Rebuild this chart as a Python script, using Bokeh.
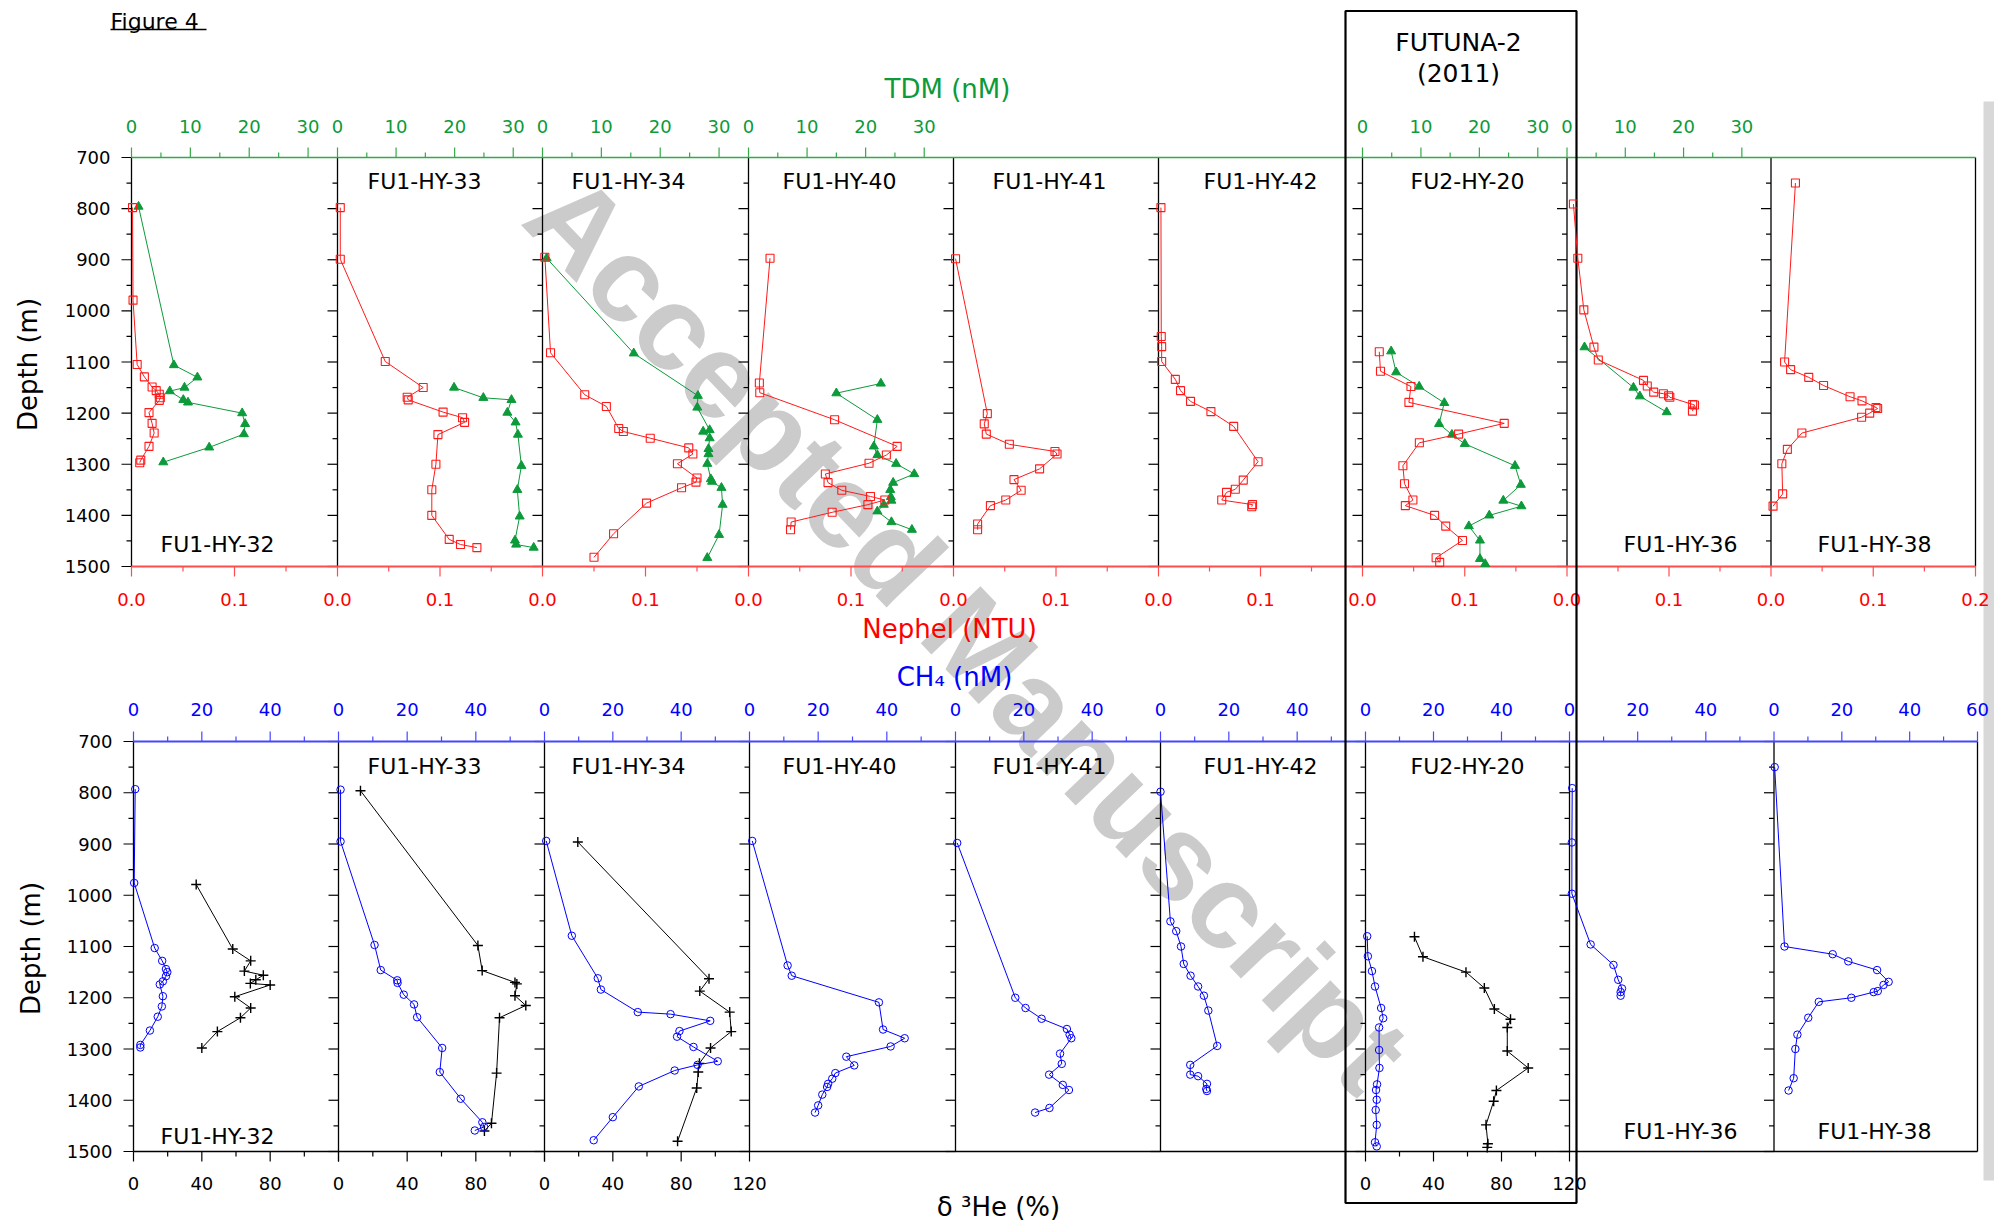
import math
from bokeh.plotting import figure
from bokeh.models import Range1d
from bokeh.embed import file_html
from bokeh.resources import INLINE
from bokeh.core.properties import value

# ---------------------------------------------------------------- data
stations = ["FU1-HY-32", "FU1-HY-33", "FU1-HY-34", "FU1-HY-40", "FU1-HY-41",
            "FU1-HY-42", "FU2-HY-20", "FU1-HY-36", "FU1-HY-38"]

depth_ticks = [700, 800, 900, 1000, 1100, 1200, 1300, 1400, 1500]
tdm_ticks = [0, 10, 20, 30]
neph_ticks = [0.0, 0.1]
ch4_ticks = [0, 20, 40]
he_ticks = [0, 40, 80]

# Nephelometry (NTU)
neph_32_depth = [798, 979, 1105, 1129, 1149, 1156, 1163, 1170, 1175, 1199, 1220, 1239, 1265, 1292, 1297]
neph_32 = [0.001, 0.0015, 0.0055, 0.0125, 0.020, 0.024, 0.027, 0.028, 0.027, 0.017, 0.020, 0.022, 0.017, 0.009, 0.008]
neph_33_depth = [798, 899, 1099, 1150, 1169, 1174, 1198, 1209, 1218, 1242, 1300, 1350, 1400, 1447, 1457, 1463]
neph_33 = [0.0027, 0.0027, 0.0466, 0.0836, 0.068, 0.069, 0.103, 0.122, 0.124, 0.098, 0.096, 0.092, 0.092, 0.109, 0.120, 0.136]
neph_34_depth = [895, 1082, 1164, 1187, 1230, 1236, 1249, 1268, 1280, 1299, 1327, 1335, 1346, 1376, 1436, 1482]
neph_34 = [0.0023, 0.0078, 0.041, 0.062, 0.074, 0.0785, 0.1046, 0.142, 0.146, 0.131, 0.150, 0.149, 0.135, 0.101, 0.069, 0.050]
neph_40_depth = [897, 1141, 1160, 1213, 1265, 1282, 1298, 1319, 1336, 1351, 1363, 1370, 1379, 1394, 1413, 1428]
neph_40 = [0.021, 0.0106, 0.011, 0.084, 0.145, 0.1345, 0.1176, 0.075, 0.0776, 0.091, 0.119, 0.133, 0.1165, 0.0816, 0.0416, 0.041]
neph_41_depth = [898, 1201, 1221, 1241, 1261, 1275, 1280, 1309, 1330, 1351, 1370, 1381, 1417, 1428]
neph_41 = [0.002, 0.033, 0.030, 0.032, 0.0545, 0.099, 0.101, 0.084, 0.059, 0.066, 0.051, 0.036, 0.0235, 0.0235]
neph_42_depth = [798, 1050, 1070, 1099, 1134, 1156, 1177, 1197, 1226, 1295, 1331, 1349, 1355, 1370, 1379, 1383]
neph_42 = [0.0024, 0.0027, 0.0031, 0.0031, 0.0165, 0.0216, 0.0314, 0.0514, 0.0737, 0.0976, 0.0831, 0.0753, 0.0667, 0.062, 0.0922, 0.0914]
neph_20_depth = [1080, 1118, 1148, 1179, 1220, 1241, 1258, 1303, 1338, 1370, 1381, 1400, 1421, 1449, 1483, 1492]
neph_20 = [0.0164, 0.0176, 0.0474, 0.0454, 0.1386, 0.094, 0.0556, 0.0395, 0.0411, 0.0493, 0.0419, 0.0705, 0.0814, 0.0978, 0.072, 0.0755]
neph_36_depth = [791, 897, 998, 1071, 1096, 1136, 1147, 1159, 1162, 1166, 1169, 1183, 1184, 1196]
neph_36 = [0.0063, 0.0106, 0.0165, 0.0264, 0.0307, 0.075, 0.0787, 0.085, 0.0945, 0.0996, 0.1008, 0.1232, 0.125, 0.123]
neph_38_depth = [750, 1100, 1115, 1130, 1146, 1168, 1176, 1189, 1191, 1200, 1208, 1239, 1271, 1299, 1358, 1382]
neph_38 = [0.0239, 0.0133, 0.0192, 0.0369, 0.0514, 0.0773, 0.089, 0.1027, 0.1043, 0.0965, 0.0886, 0.0302, 0.016, 0.0106, 0.0114, 0.002]

# TDM (nM)
tdm_32_depth = [796, 1106, 1130, 1150, 1157, 1174, 1179, 1200, 1221, 1241, 1267, 1296]
tdm_32 = [1.2, 7.2, 11.2, 9.0, 6.5, 8.8, 9.6, 18.8, 19.3, 19.1, 13.2, 5.4]
tdm_33_depth = [1150, 1170, 1174, 1199, 1218, 1242, 1303, 1350, 1402, 1449, 1457, 1463]
tdm_33 = [19.9, 24.9, 29.7, 29.0, 30.4, 30.8, 31.4, 30.7, 31.1, 30.3, 30.5, 33.5]
tdm_34_depth = [897, 1083, 1166, 1189, 1233, 1236, 1249, 1270, 1280, 1299, 1329, 1334, 1346, 1379, 1438, 1483]
tdm_34 = [0.7, 15.5, 26.4, 26.3, 28.4, 27.3, 28.4, 28.2, 28.2, 28.0, 28.6, 28.8, 30.4, 30.6, 30.0, 28.0]
tdm_40_depth = [1142, 1161, 1213, 1265, 1282, 1299, 1319, 1336, 1350, 1364, 1371, 1379, 1392, 1413, 1428]
tdm_40 = [22.6, 15.0, 22.0, 21.4, 22.0, 25.2, 28.3, 24.7, 24.2, 24.3, 24.4, 23.1, 22.0, 24.4, 27.9]
tdm_20_depth = [1079, 1120, 1148, 1180, 1221, 1242, 1260, 1303, 1340, 1371, 1382, 1400, 1421, 1449, 1485, 1495]
tdm_20 = [4.9, 5.75, 9.7, 14.0, 13.1, 15.3, 17.5, 26.1, 27.1, 24.1, 27.2, 21.7, 18.2, 20.1, 20.1, 21.0]
tdm_36_depth = [1071, 1150, 1167, 1198]
tdm_36 = [3.0, 11.4, 12.5, 17.1]

# CH4 (nM)
ch4_32_depth = [793, 976, 1103, 1128, 1144, 1150, 1158, 1168, 1174, 1197, 1217, 1237, 1264, 1292, 1297]
ch4_32 = [0.5, 0.2, 6.2, 8.4, 9.5, 9.9, 9.5, 8.6, 7.7, 8.6, 8.3, 7.1, 4.8, 2.0, 2.0]
ch4_33_depth = [794, 895, 1097, 1146, 1166, 1171, 1194, 1213, 1238, 1298, 1345, 1397, 1443, 1452, 1459]
ch4_33 = [0.6, 0.6, 10.5, 12.3, 17.1, 17.2, 19.0, 22.0, 22.9, 30.2, 29.5, 35.6, 41.9, 42.4, 39.7]
ch4_34_depth = [894, 1079, 1162, 1184, 1228, 1232, 1245, 1265, 1276, 1296, 1324, 1331, 1342, 1373, 1433, 1478]
ch4_34 = [0.5, 8.0, 15.6, 16.5, 27.3, 36.9, 48.5, 39.5, 38.8, 43.6, 50.7, 44.8, 38.1, 27.6, 20.0, 14.4]
ch4_40_depth = [894, 1137, 1157, 1209, 1262, 1279, 1295, 1315, 1332, 1347, 1358, 1368, 1374, 1389, 1410, 1424]
ch4_40 = [0.8, 11.1, 12.3, 37.7, 38.9, 45.2, 41.1, 28.2, 30.5, 25.0, 24.1, 22.9, 22.6, 21.2, 20.0, 19.1]
ch4_41_depth = [898, 1200, 1220, 1241, 1261, 1272, 1279, 1309, 1329, 1350, 1370, 1380, 1415, 1424]
ch4_41 = [0.5, 17.5, 20.5, 25.2, 32.6, 33.4, 33.9, 30.6, 31.1, 27.4, 31.4, 33.2, 27.5, 23.3]
ch4_42_depth = [798, 1051, 1070, 1100, 1134, 1157, 1178, 1196, 1225, 1294, 1331, 1350, 1353, 1368, 1378, 1382]
ch4_42 = [0.0, 2.9, 4.6, 6.0, 6.8, 8.8, 11.0, 12.7, 14.0, 16.6, 8.7, 8.7, 11.0, 13.6, 13.4, 13.6]
ch4_20_depth = [1080, 1119, 1148, 1178, 1220, 1240, 1258, 1302, 1337, 1369, 1380, 1399, 1419, 1448, 1482, 1490]
ch4_20 = [0.5, 0.7, 1.9, 2.8, 4.6, 5.2, 4.0, 4.0, 4.1, 3.4, 3.1, 3.3, 3.0, 3.3, 2.8, 3.3]
ch4_36_depth = [791, 897, 997, 1096, 1136, 1165, 1182, 1189, 1196]
ch4_36 = [0.8, 0.7, 0.7, 6.2, 12.9, 14.3, 15.4, 15.0, 15.0]
ch4_38_depth = [750, 1100, 1115, 1129, 1146, 1169, 1175, 1187, 1189, 1200, 1208, 1239, 1272, 1300, 1357, 1381]
ch4_38 = [0.2, 3.1, 17.3, 21.9, 30.4, 33.8, 32.3, 30.6, 29.4, 22.8, 13.2, 10.1, 6.9, 6.3, 5.8, 4.3]

# delta 3He (%)
he_32_depth = [979, 1105, 1128, 1148, 1156, 1165, 1172, 1175, 1198, 1220, 1239, 1266, 1298]
he_32 = [36.7, 58.1, 68.6, 64.9, 76.0, 71.6, 68.4, 80.0, 59.3, 68.6, 62.6, 49.1, 40.0]
he_33_depth = [796, 1098, 1147, 1170, 1173, 1196, 1215, 1239, 1347, 1445, 1460]
he_33 = [12.8, 81.2, 83.7, 102.8, 103.9, 102.8, 109.1, 93.8, 92.1, 89.1, 85.0]
he_34_depth = [896, 1163, 1187, 1228, 1266, 1298, 1328, 1345, 1376, 1480]
he_34 = [19.5, 96.3, 90.9, 108.4, 109.3, 97.2, 90.7, 90.0, 89.1, 77.9]
he_20_depth = [1081, 1120, 1150, 1181, 1222, 1242, 1258, 1304, 1337, 1381, 1402, 1448, 1485, 1492]
he_20 = [28.8, 33.8, 59.1, 69.9, 75.8, 85.3, 83.4, 83.4, 95.7, 77.0, 75.4, 70.9, 72.0, 71.6]

# station index -> (depths, values)
neph = {0: (neph_32_depth, neph_32), 1: (neph_33_depth, neph_33), 2: (neph_34_depth, neph_34),
        3: (neph_40_depth, neph_40), 4: (neph_41_depth, neph_41), 5: (neph_42_depth, neph_42),
        6: (neph_20_depth, neph_20), 7: (neph_36_depth, neph_36), 8: (neph_38_depth, neph_38)}
tdm = {0: (tdm_32_depth, tdm_32), 1: (tdm_33_depth, tdm_33), 2: (tdm_34_depth, tdm_34),
       3: (tdm_40_depth, tdm_40), 6: (tdm_20_depth, tdm_20), 7: (tdm_36_depth, tdm_36)}
ch4 = {0: (ch4_32_depth, ch4_32), 1: (ch4_33_depth, ch4_33), 2: (ch4_34_depth, ch4_34),
       3: (ch4_40_depth, ch4_40), 4: (ch4_41_depth, ch4_41), 5: (ch4_42_depth, ch4_42),
       6: (ch4_20_depth, ch4_20), 7: (ch4_36_depth, ch4_36), 8: (ch4_38_depth, ch4_38)}
he = {0: (he_32_depth, he_32), 1: (he_33_depth, he_33), 2: (he_34_depth, he_34), 6: (he_20_depth, he_20)}

# ---------------------------------------------------------------- layout / style
FONT = "DejaVu Sans"
W_PX, H_PX = 1994, 1225
RED = "#ff1a1a"
GREEN = "#0c9a3a"
BLUE = "#0000ff"
BLACK = "#000000"

TOP = dict(y700=157, y1500=566, lefts=[131, 337, 542, 748, 953, 1158, 1362, 1566.5, 1770.5], right=1975)
BOT = dict(y700=741, y1500=1151, lefts=[133, 338, 544, 749, 955, 1160, 1365, 1569, 1773.5], right=1977)
label_x = [217, 424, 628, 839, 1049, 1260, 1467, 1680, 1874]


def dep_range(row):
    s = 800.0 / (row["y1500"] - row["y700"])
    return Range1d(start=700 + (H_PX - row["y700"]) * s, end=700 + (0 - row["y700"]) * s)


def val_range(row, k, vmax):
    L = row["lefts"][k]
    R = row["lefts"][k + 1] if k + 1 < len(row["lefts"]) else row["right"]
    s = vmax / (R - L)
    return Range1d(start=-L * s, end=(W_PX - L) * s)


p = figure(width=W_PX, height=H_PX, x_range=Range1d(0, W_PX), y_range=Range1d(H_PX, 0),
           output_backend="svg", toolbar_location=None, min_border=0,
           x_axis_location=None, y_axis_location=None)
p.grid.visible = False
p.outline_line_color = None
p.background_fill_color = "white"
p.border_fill_color = "white"

xr = {}
for k in range(9):
    xr[f"neph{k}"] = val_range(TOP, k, 0.2)
    xr[f"tdm{k}"] = val_range(TOP, k, 35)
    xr[f"ch4{k}"] = val_range(BOT, k, 60)
    xr[f"he{k}"] = val_range(BOT, k, 120)
p.extra_x_ranges = xr
p.extra_y_ranges = {"dtop": dep_range(TOP), "dbot": dep_range(BOT)}


def txt(x, y, s, size, color=BLACK, align="center", baseline="middle", angle=0.0,
        xr_="default", yr_="default", font=FONT, style="normal"):
    p.text(x=list(x), y=list(y), text=list(s), x_range_name=xr_, y_range_name=yr_,
           text_font=value(font), text_font_size=f"{size}px", text_color=color,
           text_align=align, text_baseline=baseline, angle=angle, text_font_style=style)


def seg(x0, y0, x1, y1, color=BLACK, width=1.2, xr_="default", yr_="default"):
    p.segment(x0=list(x0), y0=list(y0), x1=list(x1), y1=list(y1), x_range_name=xr_,
              y_range_name=yr_, line_color=color, line_width=width)


# watermark (under everything)
txt([968], [632], ["Accepted Manuscript"], 120, color="#cbcbcb", angle=-math.radians(46.3),
    font="Liberation Sans", style="bold")

# page-edge shadow
p.quad(left=[1983], right=[1994], top=[101], bottom=[1180], fill_color="#d8d8d8", line_color=None)

# "Figure 4" (top of the page)
txt([110], [21], ["Figure 4"], 22, align="left", baseline="alphabetic")
seg([110], [29], [206], [29], width=1.6)

# depth axes + panel boundaries
minor_depth = [d + 50 for d in depth_ticks[:-1]]
for row, yr_ in ((TOP, "dtop"), (BOT, "dbot")):
    for L in row["lefts"]:
        seg([L - 10] * len(depth_ticks), depth_ticks, [L] * len(depth_ticks), depth_ticks, yr_=yr_)
        seg([L - 5] * len(minor_depth), minor_depth, [L] * len(minor_depth), minor_depth, yr_=yr_)
    xs = row["lefts"] + [row["right"]]
    seg(xs, [row["y700"]] * len(xs), xs, [row["y1500"]] * len(xs), width=1.3)
    txt([row["lefts"][0] - 21] * len(depth_ticks), depth_ticks, [str(d) for d in depth_ticks],
        18, align="right", yr_=yr_)

# axis lines
seg([TOP["lefts"][0]], [TOP["y700"]], [TOP["right"]], [TOP["y700"]], color="#35a848", width=1.6)
seg([TOP["lefts"][0]], [TOP["y1500"]], [TOP["right"]], [TOP["y1500"]], color="#ff4d4d", width=2)
seg([BOT["lefts"][0]], [BOT["y700"]], [BOT["right"]], [BOT["y700"]], color="#4646ff", width=2)
seg([BOT["lefts"][0]], [BOT["y1500"]], [BOT["right"]], [BOT["y1500"]], color=BLACK, width=1.5)

# TDM axis (top, green) on panels with TDM data
for k in tdm:
    n = f"tdm{k}"
    mn = [t + 5 for t in tdm_ticks[:-1]]
    seg(tdm_ticks, [TOP["y700"]] * 4, tdm_ticks, [TOP["y700"] - 10] * 4, color="#35a848", xr_=n)
    seg(mn, [TOP["y700"]] * 3, mn, [TOP["y700"] - 5] * 3, color="#35a848", xr_=n)
    txt(tdm_ticks, [126] * 4, [str(t) for t in tdm_ticks], 18, color=GREEN, xr_=n)

# Nephel axis (bottom of top row, red)
for k in range(9):
    n = f"neph{k}"
    mj = neph_ticks + ([0.2] if k == 8 else [])
    mn = [0.05, 0.15]
    seg(mj, [TOP["y1500"]] * len(mj), mj, [TOP["y1500"] + 10] * len(mj), color="#ff4d4d", xr_=n)
    seg(mn, [TOP["y1500"]] * 2, mn, [TOP["y1500"] + 5] * 2, color="#ff4d4d", xr_=n)
    txt(mj, [599] * len(mj), [f"{t:.1f}" for t in mj], 18, color="#ff0000", xr_=n)

# CH4 axis (top of bottom row, blue)
for k in range(9):
    n = f"ch4{k}"
    mj = ch4_ticks + ([60] if k == 8 else [])
    mn = [10, 30, 50]
    seg(mj, [BOT["y700"]] * len(mj), mj, [BOT["y700"] - 10] * len(mj), color="#4646ff", xr_=n)
    seg(mn, [BOT["y700"]] * 3, mn, [BOT["y700"] - 5] * 3, color="#4646ff", xr_=n)
    txt(mj, [709] * len(mj), [str(t) for t in mj], 18, color=BLUE, xr_=n)

# delta 3He axis (bottom, black) on panels with He data
for k in he:
    n = f"he{k}"
    mj = he_ticks + ([120] if (k + 1) not in he else [])
    mj_t = he_ticks + [120]
    mn = [20, 60, 100]
    seg(mj_t, [BOT["y1500"]] * 4, mj_t, [BOT["y1500"] + 10] * 4, xr_=n)
    seg(mn, [BOT["y1500"]] * 3, mn, [BOT["y1500"] + 5] * 3, xr_=n)
    txt(mj, [1183] * len(mj), [str(t) for t in mj], 18, xr_=n)

# axis titles
txt([947], [88], ["TDM (nM)"], 26, color=GREEN)
txt([949], [628], ["Nephel (NTU)"], 26, color="#ff0000")
txt([954], [676], ["CH\u2084 (nM)"], 26, color=BLUE)
txt([998], [1206], ["\u03b4 \u00b3He (%)"], 26)
txt([27], [364], ["Depth (m)"], 26, angle=math.pi / 2)
txt([30], [948], ["Depth (m)"], 26, angle=math.pi / 2)

# FUTUNA-2 box
txt([1458, 1458], [42, 73], ["FUTUNA-2", "(2011)"], 25)
p.quad(left=[1345], right=[1576], top=[10.5], bottom=[1202.5], fill_color=None,
       line_color=BLACK, line_width=2.2)

# station labels
for k, st in enumerate(stations):
    if 1 <= k <= 6:
        txt([label_x[k], label_x[k]], [181, 766], [st, st], 22)
    else:
        yb = 1136 if k == 0 else 1131
        txt([label_x[k], label_x[k]], [544, yb], [st, st], 22)

# ---------------------------------------------------------------- data marks
for k, (d, v) in tdm.items():
    p.line(v, d, x_range_name=f"tdm{k}", y_range_name="dtop", line_color=GREEN, line_width=1)
    p.scatter(v, d, x_range_name=f"tdm{k}", y_range_name="dtop", marker="triangle", size=9,
              fill_color=GREEN, line_color=GREEN)
for k, (d, v) in neph.items():
    p.line(v, d, x_range_name=f"neph{k}", y_range_name="dtop", line_color=RED, line_width=1)
    p.scatter(v, d, x_range_name=f"neph{k}", y_range_name="dtop", marker="square", size=8,
              fill_color=None, line_color=RED, line_width=1.1)
for k, (d, v) in he.items():
    p.line(v, d, x_range_name=f"he{k}", y_range_name="dbot", line_color=BLACK, line_width=1)
    p.scatter(v, d, x_range_name=f"he{k}", y_range_name="dbot", marker="cross", size=10,
              line_color=BLACK, line_width=1.4)
for k, (d, v) in ch4.items():
    p.line(v, d, x_range_name=f"ch4{k}", y_range_name="dbot", line_color=BLUE, line_width=1)
    p.scatter(v, d, x_range_name=f"ch4{k}", y_range_name="dbot", marker="circle", size=7.5,
              fill_color=None, line_color=BLUE, line_width=1)

open("out.html", "w").write(file_html(p, INLINE))
